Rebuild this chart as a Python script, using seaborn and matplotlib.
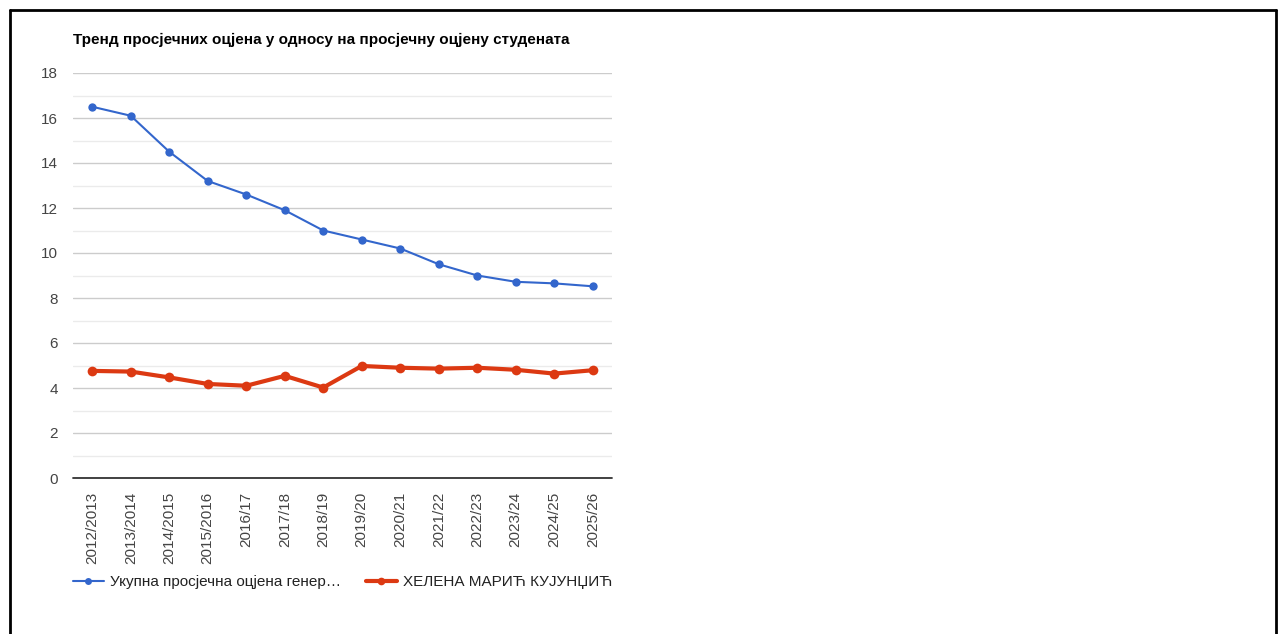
import numpy as np
import pandas as pd
import seaborn as sns
import matplotlib.pyplot as plt
from matplotlib.lines import Line2D

seasons = ['2012/2013', '2013/2014', '2014/2015', '2015/2016', '2016/17', '2017/18', '2018/19',
           '2019/20', '2020/21', '2021/22', '2022/23', '2023/24', '2024/25', '2025/26']
generation_avg = [16.5, 16.1, 14.5, 13.2, 12.6, 11.9, 11.0, 10.6, 10.2, 9.5, 9.0, 8.72, 8.65, 8.52]
student_avg = [4.76, 4.73, 4.47, 4.18, 4.1, 4.54, 4.02, 4.98, 4.9, 4.86, 4.9, 4.81, 4.64, 4.79]

label_gen = 'Укупна просјечна оцјена генер…'
label_student = 'ХЕЛЕНА МАРИЋ КУЈУНЏИЋ'
title = 'Тренд просјечних оцјена у односу на просјечну оцјену студената'

df = pd.DataFrame({'season': seasons, 'gen': generation_avg, 'student': student_avg})

sns.set_style('white')
plt.rcParams['font.family'] = ['Liberation Sans', 'DejaVu Sans']

fig = plt.figure(figsize=(12.78, 6.34), dpi=100)
ax = fig.add_axes([73 / 1278, 156 / 634, 539 / 1278, 405 / 634])

blue = '#3366cc'
red = '#dc3912'

sns.lineplot(data=df, x='season', y='gen', ax=ax, color=blue, linewidth=1.5,
             marker='o', markersize=6, markeredgewidth=0, sort=False, zorder=4)
sns.lineplot(data=df, x='season', y='student', ax=ax, color=red, linewidth=3,
             marker='o', markersize=7, markeredgewidth=0, sort=False, zorder=4)

ax.set_xlim(-0.5, len(seasons) - 0.5)
ax.set_ylim(0, 18)
ax.set_yticks(range(0, 19, 2))
ax.set_yticks(range(1, 18, 2), minor=True)
ax.grid(axis='y', which='major', color='#cccccc', linewidth=1)
ax.grid(axis='y', which='minor', color='#ebebeb', linewidth=1)
ax.set_axisbelow(True)
ax.axhline(0, color='#333333', linewidth=1.3, zorder=3, clip_on=False)
for s in ax.spines.values():
    s.set_visible(False)
ax.tick_params(axis='both', length=0, labelsize=11, labelcolor='#444444')
ax.tick_params(axis='y', pad=11)
ax.tick_params(axis='x', pad=10)
plt.setp(ax.get_xticklabels(), rotation=90, va='top', ha='center')
ax.set_xlabel('')
ax.set_ylabel('')

fig.text(73 / 1278, 1 - 40 / 634, title, fontsize=11, fontweight='bold', color='#000000', va='center')

handles = [Line2D([], [], color=blue, linewidth=1.5, marker='o', markersize=5, markeredgewidth=0),
           Line2D([], [], color=red, linewidth=3, marker='o', markersize=5.5, markeredgewidth=0)]
fig.legend(handles, [label_gen, label_student], loc='center left',
           bbox_to_anchor=(73 / 1278, 1 - 582 / 634), ncol=2, frameon=False,
           fontsize=11, handlelength=2.0, handletextpad=0.45, columnspacing=1.6,
           borderpad=0, borderaxespad=0, labelcolor='#222222')

# outer frame
fig.add_artist(Line2D([10 / 1278, 10 / 1278], [0, 1 - 10 / 634], color='black', linewidth=2))
fig.add_artist(Line2D([10 / 1278, 1276 / 1278], [1 - 10 / 634, 1 - 10 / 634], color='black', linewidth=2))
fig.add_artist(Line2D([1276 / 1278, 1276 / 1278], [0, 1 - 10 / 634], color='black', linewidth=2))

fig.savefig('out.png', dpi=100, facecolor='white')
